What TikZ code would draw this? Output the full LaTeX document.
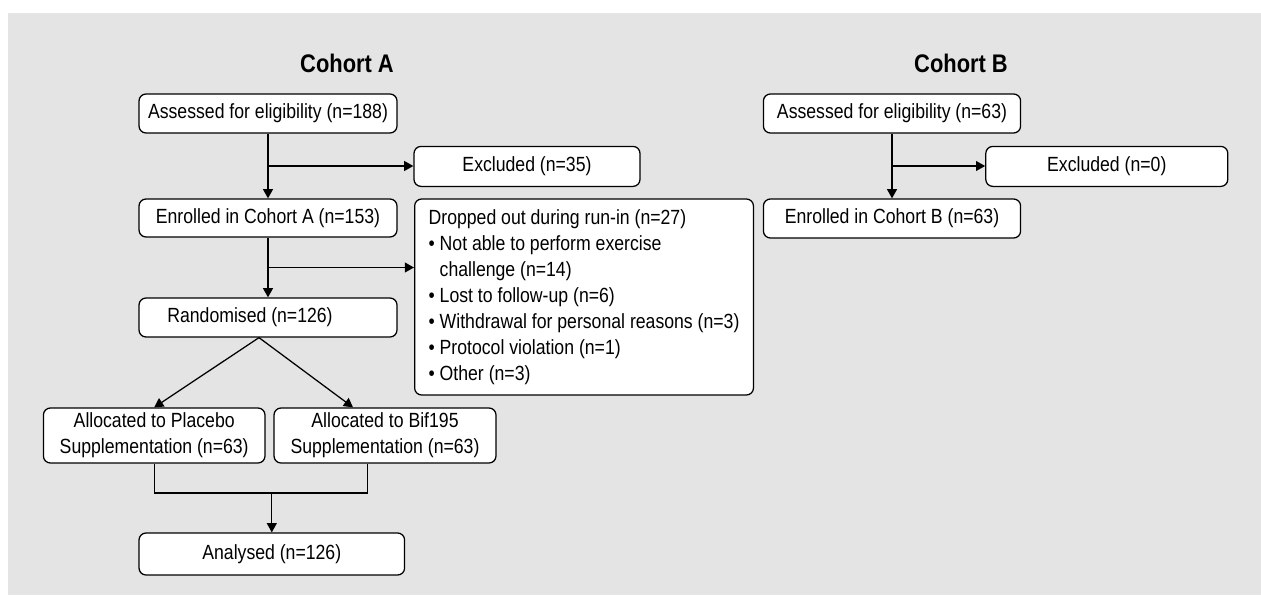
\documentclass[tikz,border=0pt]{standalone}
\usepackage{fontspec}
\setmainfont{Liberation Sans}[FakeStretch=0.86]
\definecolor{panelgray}{RGB}{227, 228, 227}
\usetikzlibrary{arrows.meta, positioning, calc}

\tikzset{
  box/.style={draw=black, fill=white, rounded corners=5pt, line width=0.9pt, minimum height=0.975cm, align=center, inner sep=0pt},
  arr/.style={-{Triangle[width=7pt,length=6.5pt]}, line width=0.9pt},
  cohort/.style={font=\fontsize{18.1}{20}\selectfont\bfseries},
}

\begin{document}
\begin{tikzpicture}[font=\fontsize{14.6}{18.5}\selectfont]
  \useasboundingbox (0,0) rectangle (31.525,-14.9);
  \fill[panelgray] (0.2,-0.325) rectangle (31.525,-14.875);

  % Cohort A
  \node[cohort] (titleA) at (8.675,-1.575) {Cohort A};
  \node[box, minimum width=6.45cm] (assA) at (6.7,-2.8375) {Assessed for eligibility (n=188)};
  \node[box, minimum width=5.65cm, minimum height=1cm] (exclA) at (13.175,-4.16) {Excluded (n=35)};
  \node[box, minimum width=6.45cm, minimum height=0.95cm] (enrA) at (6.7,-5.45) {Enrolled in Cohort A (n=153)};
  \node[box, anchor=west, align=left, minimum height=4.9cm, inner xsep=0.35cm] (drop) at (10.35,-7.425) {
    Dropped out during run-in (n=27)\\
    • Not able to perform exercise\\
    \hphantom{• }challenge (n=14)\\
    • Lost to follow-up (n=6)\\
    • Withdrawal for personal reasons (n=3)\\
    • Protocol violation (n=1)\\
    • Other (n=3)
  };
  \node[box, minimum width=6.45cm] (rand) at (6.7,-7.9375) {\hspace*{-0.9cm}Randomised (n=126)};
  \node[box, minimum width=5.54cm, minimum height=1.375cm] (plac) at (3.855,-10.8875) {Allocated to Placebo\\Supplementation (n=63)};
  \node[box, minimum width=5.55cm, minimum height=1.375cm] (bif) at (9.625,-10.8875) {Allocated to Bif195\\Supplementation (n=63)};
  \node[box, minimum width=6.64cm, minimum height=1.05cm] (anal) at (6.795,-13.85) {Analysed (n=126)};

  \draw[arr] (assA) -- (enrA);
  \coordinate (brA1) at ($(assA.south)!0.5!(enrA.north)$);
  \draw[arr] (brA1) -- (brA1 -| exclA.west);
  \draw[arr] (enrA) -- (rand);
  \coordinate (brA2) at ($(enrA.south)!0.5!(rand.north)$);
  \draw[arr] (brA2) -- (brA2 -| drop.west);

  % Randomisation split and merge
  \coordinate (split) at ([xshift=-0.225cm]rand.south);
  \draw[arr] (split) -- (plac.north);
  \draw[arr] (split) -- ([xshift=-0.8cm]bif.north);
  \coordinate (join) at (anal.north |- 0,-12.325);
  \draw[line width=0.9pt] (plac.south) |- (join) -| ([xshift=-0.435cm]bif.south);
  \draw[arr] (join) -- (anal.north);

  % Cohort B
  \node[cohort] (titleB) at (24.025,-1.575) {Cohort B};
  \node[box, minimum width=6.43cm] (assB) at (22.3,-2.8375) {Assessed for eligibility (n=63)};
  \node[box, minimum width=6.05cm, minimum height=1cm] (exclB) at (27.67,-4.16) {Excluded (n=0)};
  \node[box, minimum width=6.43cm] (enrB) at (22.3,-5.4625) {Enrolled in Cohort B (n=63)};

  \draw[arr] (assB) -- (enrB);
  \coordinate (brB) at ($(assB.south)!0.5!(enrB.north)$);
  \draw[arr] (brB) -- (brB -| exclB.west);
\end{tikzpicture}
\end{document}
